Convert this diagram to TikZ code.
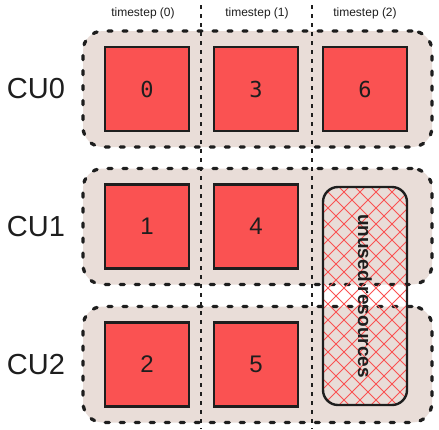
\documentclass[tikz,border=0pt]{standalone}
\usepackage{fontspec}
\setmainfont{Liberation Sans}
\setmonofont{DejaVu Sans Mono}
\definecolor{cured}{HTML}{FA5252}
\definecolor{cubg}{HTML}{E9DDD8}
\definecolor{ink}{HTML}{1E1E1E}
\tikzset{
  cubox/.style={draw=ink,fill=cubg,line width=3.3pt,dash pattern=on 4pt off 11pt,line cap=round,rounded corners=20pt,minimum width=349pt,minimum height=116pt,inner sep=0pt},
  task/.style={draw=ink,fill=cured,line width=2.4pt,minimum size=84pt,inner sep=0pt,text=ink},
  monotask/.style={task,font=\ttfamily\fontsize{22}{24}\selectfont},
  sanstask/.style={task,font=\fontsize{24}{26}\selectfont},
  culabel/.style={text=ink,font=\fontsize{29}{31}\selectfont},
  steplabel/.style={text=ink,font=\fontsize{12}{14}\selectfont},
  stepline/.style={draw=ink,line width=1.6pt,dash pattern=on 4pt off 5pt},
  unusedbox/.style={draw=ink,line width=2.4pt,rounded corners=15pt,minimum width=84pt,minimum height=218pt,inner sep=0pt},
  hatch/.style={draw=cured,line width=1pt},
}
\begin{document}
\begin{tikzpicture}[x=1pt,y=-1pt]
  \useasboundingbox (0,0) rectangle (439,429);
  % compute units
  \node[cubox] (row0) at (257.5,89) {};
  \node[cubox] (row1) at (257.5,226.5) {};
  \node[cubox] (row2) at (257.5,364.5) {};
  \node[culabel] (cu0) at (36,89) {CU0};
  \node[culabel] (cu1) at (36,226.5) {CU1};
  \node[culabel] (cu2) at (36,364.5) {CU2};
  % tasks
  \node[monotask] (t0) at (147,89) {0};
  \node[monotask] (t3) at (256,89) {3};
  \node[monotask] (t6) at (365,89) {6};
  \node[sanstask] (t1) at (147,226.5) {1};
  \node[sanstask] (t4) at (256,226.5) {4};
  \node[sanstask] (t2) at (147,364.5) {2};
  \node[sanstask] (t5) at (256,364.5) {5};
  % unused slot
  \begin{scope}
    \clip[rounded corners=15pt] (323,187) rectangle (407,405);
    \foreach \i in {-224,-208,...,96} {
      \draw[hatch] (323+\i,187) -- ++(218,218);
      \draw[hatch] (323+\i,405) -- ++(218,-218);
    }
  \end{scope}
  \node[unusedbox] (unused) at (365,296) {};
  \node[rotate=-90,text=ink,font=\bfseries\fontsize{19}{21}\selectfont] (unusedtxt) at (unused.center) {unused resources};
  % timesteps
  \node[steplabel] (ts0) at (143,13) {timestep (0)};
  \node[steplabel] (ts1) at (257,13) {timestep (1)};
  \node[steplabel] (ts2) at (365,13) {timestep (2)};
  \coordinate (sa) at (201,5);
  \coordinate (sb) at (201,429);
  \coordinate (sc) at (312,5);
  \coordinate (sd) at (312,429);
  \draw[stepline] (sa) -- (sb);
  \draw[stepline] (sc) -- (sd);
\end{tikzpicture}
\end{document}
